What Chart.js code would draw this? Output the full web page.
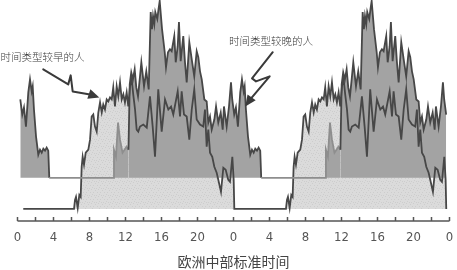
<!DOCTYPE html>
<html>
<head>
<meta charset="utf-8">
<script src="https://cdn.jsdelivr.net/npm/chart.js@4.4.0/dist/chart.umd.min.js"></script>
<style>
  html, body { margin: 0; padding: 0; background: #fff; overflow: hidden; }
  #wrap { position: relative; width: 457px; height: 270px; }
  #wrap canvas { display: block; }
</style>
</head>
<body>
<div id="wrap"><canvas id="chronoChart"></canvas></div>
<script>
// one recorded cycle for each group: hour (CET) and activity level
const earlyHours = [0.64, 6.28, 6.39, 6.50, 6.69, 6.87, 7.02, 7.13, 7.24, 7.39, 7.58, 7.87, 8.06, 8.24, 8.42, 8.61, 8.80, 8.98,
  9.17, 9.36, 9.53, 9.72, 9.91, 10.09, 10.28, 10.47, 10.64, 10.83, 11.02, 11.20, 11.39, 11.58, 11.76, 11.94, 12.13, 12.31,
  12.50, 12.69, 12.86, 13.06, 13.24, 13.42, 13.61, 13.98, 14.36, 14.72, 15.02, 15.28, 15.64, 16.02, 16.39, 16.76, 17.06,
  17.31, 17.80, 18.06, 18.24, 18.50, 18.80, 19.09, 19.36, 19.64, 19.91, 20.28, 20.64, 20.83, 21.02, 21.20, 21.39, 21.64,
  21.87, 22.13, 22.31, 22.61, 22.87, 23.13, 23.42, 23.61, 23.87, 24.02, 24.09];
const earlyLevels = [0, 0, 4.5, 6, 0.5, 7, 6, 21, 26, 22, 28, 29.5, 34.5, 46, 47, 41, 38.5, 48,
  53, 48, 52, 49.5, 54.5, 53.5, 55.5, 54.5, 60.5, 51, 61, 56, 63, 54.5, 57, 53, 58, 51,
  61, 64.5, 57, 49.5, 39.5, 38.5, 41, 42, 40.5, 56, 41, 26, 59.5, 38.5, 54.5, 49.5, 51,
  47, 58.5, 46, 58.5, 47, 46, 34.5, 49.5, 59.5, 44.5, 42, 41, 49.5, 31, 39.5, 28, 26,
  21, 18, 14.5, 8.5, 20.5, 19.5, 14.5, 13.5, 26, 14.5, 0];

const lateHours = [0.31, 0.53, 0.72, 0.94, 1.20, 1.39, 1.58, 1.69, 1.83, 2.06, 2.31, 2.50, 2.69, 2.87, 3.06, 3.24, 3.42, 3.53,
  10.67, 10.72, 10.94, 11.17, 11.39, 11.67, 11.89, 12.11, 12.33, 12.47, 12.64, 12.83, 13.02, 13.20, 13.39, 13.58, 13.76,
  13.91, 14.06, 14.31, 14.58, 14.80, 14.94, 15.06, 15.20, 15.31, 15.53, 15.67, 15.80, 16.06, 16.36, 16.50, 16.72, 16.94,
  17.13, 17.42, 17.58, 17.80, 17.94, 18.13, 18.42, 18.61, 18.80, 19.09, 19.36, 19.64, 19.91, 20.09, 20.28, 20.47, 20.76,
  21.02, 21.20, 21.39, 21.58, 21.87, 22.06, 22.31, 22.58, 22.80, 22.94, 23.24, 23.50, 23.72];
const lateLevels = [54.5, 47, 50.5, 41, 58, 64.5, 58.5, 61, 49.5, 36, 27, 29.5, 28, 30, 29, 30.5, 29, 15.5,
  15.5, 29.5, 26, 43, 34.5, 28, 29.5, 31, 29.5, 62, 68, 64.5, 69.5, 60.5, 56, 64.5, 73,
  67, 61, 68.5, 59.5, 98, 89.5, 96, 92, 98, 94.5, 99.5, 103.5, 89.5, 78, 70.5, 78, 79.5,
  78.5, 86, 73, 81, 93, 73.5, 86, 73, 63, 83, 74.5, 66, 78.5, 75.5, 68.5, 64.5, 54.5,
  53.5, 43, 46, 39.5, 44.5, 51, 43, 48, 39.5, 51, 41, 51, 63];

const earlyRest = 0;
const lateRest = 15.5;
const repeatShift = 23.55;   // the cycle is plotted again a little under a day later
const recordEnd = 47.7;
const tickLabels = ['0', '4', '8', '12', '16', '20', '0', '4', '8', '12', '16', '20', '0'];

function repeatCycle(hours, levels, copies) {
    const pts = [];
    for (let k = 0; k < copies; k++) {
        hours.forEach((h, i) => {
            const x = h + k * repeatShift;
            if (x <= recordEnd) pts.push({ x, y: levels[i] });
        });
    }
    return pts;
}

const earlyPoints = repeatCycle(earlyHours, earlyLevels, 2);
const latePoints = repeatCycle(lateHours, lateLevels, 3);

function earlyAt(x) {
    for (let i = 1; i < earlyPoints.length; i++) {
        const a = earlyPoints[i - 1], b = earlyPoints[i];
        if (x >= a.x && x <= b.x) {
            return b.x === a.x ? b.y : a.y + (b.y - a.y) * (x - a.x) / (b.x - a.x);
        }
    }
    return -Infinity;
}

// late line is only faint where it lies flat or sits under the early group
function lateSegmentColor(ctx) {
    const p0 = ctx.p0.parsed, p1 = ctx.p1.parsed;
    if (p0.y <= lateRest && p1.y <= lateRest) return '#8e8e8e';
    if (p0.y < earlyAt(p0.x) && p1.y < earlyAt(p1.x)) return '#8e8e8e';
    return undefined;
}

// light grain for the early group's area
function stipple(base, dot) {
    const c = document.createElement('canvas');
    c.width = 7; c.height = 7;
    const g = c.getContext('2d');
    g.fillStyle = base; g.fillRect(0, 0, 7, 7);
    g.fillStyle = dot;
    [[0, 0], [4, 1], [2, 3], [6, 3], [1, 5], [5, 6], [3, 6]].forEach(p => g.fillRect(p[0], p[1], 1, 1));
    return g.createPattern(c, 'repeat');
}

const notes = [
    { text: '时间类型较早的人', at: [-1.89, 75.5],
      path: [[2.86, 69.5], [5.64, 62], [5.91, 66.5], [6.13, 58.5], [8.06, 57]], tip: [9.09, 55.5] },
    { text: '时间类型较晚的人', at: [23.5, 83.5],
      path: [[28.36, 78], [26.06, 65], [26.5, 63.5], [28.02, 66], [25.86, 54.5]], tip: [25.31, 51] }
];

const axisAndNotes = {
    id: 'axisAndNotes',
    afterDraw(chart) {
        const { ctx, chartArea } = chart;
        const xs = chart.scales.x, ys = chart.scales.y;
        const y0 = chartArea.bottom;
        ctx.save();
        ctx.strokeStyle = '#555';
        ctx.lineWidth = 1.5;
        ctx.beginPath();
        ctx.moveTo(xs.getPixelForValue(0), y0);
        ctx.lineTo(xs.getPixelForValue(48), y0);
        xs.ticks.forEach(t => {
            const px = xs.getPixelForValue(t.value);
            ctx.moveTo(px, y0);
            ctx.lineTo(px, y0 - 4);
        });
        ctx.stroke();

        ctx.fillStyle = '#3a3a3a';
        ctx.strokeStyle = '#3a3a3a';
        ctx.lineWidth = 2;
        ctx.lineJoin = 'round';
        ctx.lineCap = 'round';
        ctx.font = "300 10.5px 'Noto Sans CJK SC'";
        ctx.textBaseline = 'middle';
        notes.forEach(n => {
            ctx.fillText(n.text, xs.getPixelForValue(n.at[0]), ys.getPixelForValue(n.at[1]));
            const pts = n.path.map(p => [xs.getPixelForValue(p[0]), ys.getPixelForValue(p[1])]);
            const tip = [xs.getPixelForValue(n.tip[0]), ys.getPixelForValue(n.tip[1])];
            ctx.beginPath();
            pts.forEach((p, i) => i ? ctx.lineTo(p[0], p[1]) : ctx.moveTo(p[0], p[1]));
            ctx.stroke();
            const last = pts[pts.length - 1];
            const ang = Math.atan2(tip[1] - last[1], tip[0] - last[0]);
            const len = 11, half = 5;
            const bx = tip[0] - len * Math.cos(ang), by = tip[1] - len * Math.sin(ang);
            ctx.beginPath();
            ctx.moveTo(tip[0], tip[1]);
            ctx.lineTo(bx - half * Math.sin(ang), by + half * Math.cos(ang));
            ctx.lineTo(bx + half * Math.sin(ang), by - half * Math.cos(ang));
            ctx.closePath();
            ctx.fill();
        });
        ctx.restore();
    }
};

const cv = document.getElementById('chronoChart');
const lightFill = stipple('#dbdbdb', '#cdcdcd');

new Chart(cv.getContext('2d'), {
    type: 'line',
    data: {
        datasets: [
            {
                label: '时间类型较晚的人',
                data: latePoints,
                borderColor: '#474747',
                borderWidth: 1.8,
                backgroundColor: '#a3a3a3',
                fill: { value: lateRest },
                pointRadius: 0,
                tension: 0,
                segment: { borderColor: lateSegmentColor }
            },
            {
                label: '时间类型较早的人',
                data: earlyPoints,
                borderColor: '#474747',
                borderWidth: 1.8,
                backgroundColor: lightFill,
                fill: { value: earlyRest },
                pointRadius: 0,
                tension: 0
            }
        ]
    },
    options: {
        responsive: true,
        maintainAspectRatio: false,
        animation: false,
        events: [],
        layout: { padding: { left: 17.5, right: 7.5, top: 0, bottom: 0 } },
        plugins: {
            legend: { display: false },
            tooltip: { enabled: false },
            filler: { drawTime: 'beforeDatasetsDraw' }
        },
        scales: {
            x: {
                type: 'linear',
                min: 0,
                max: 48,
                grid: { display: false, drawTicks: false },
                border: { display: false },
                afterFit: scale => {
                    scale.height = 49;
                    scale.paddingLeft = 0;
                    scale.paddingRight = 0;
                },
                ticks: {
                    stepSize: 2,
                    autoSkip: false,
                    maxRotation: 0,
                    padding: 9,
                    color: '#555',
                    font: { family: "'DejaVu Sans Condensed', 'Liberation Sans', sans-serif", size: 13 },
                    callback: v => (v % 4 === 0 ? tickLabels[v / 4] : '')
                },
                title: {
                    display: true,
                    text: '欧洲中部标准时间',
                    color: '#444',
                    font: { family: "'Noto Sans CJK SC', sans-serif", size: 14 },
                    padding: { top: 0, bottom: 0 }
                }
            },
            y: {
                display: false,
                min: -6,
                max: 104
            }
        }
    },
    plugins: [axisAndNotes]
});
</script>
</body>
</html>
